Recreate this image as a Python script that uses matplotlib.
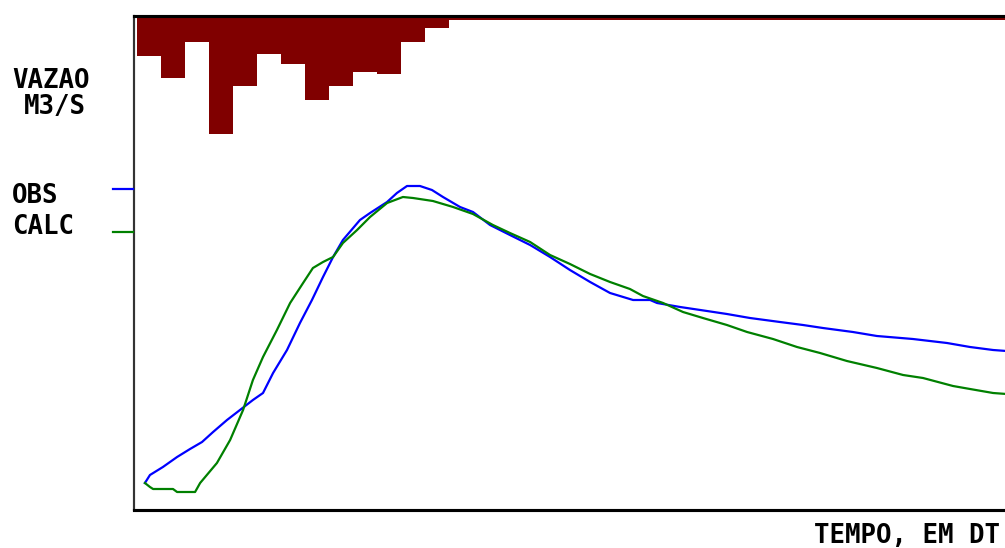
import numpy as np
import matplotlib
matplotlib.use("Agg")
import matplotlib.pyplot as plt
from matplotlib.lines import Line2D

# rainfall per time step (mm), drawn downward from the top of the box
chuva = [4.0, 6.2, 2.6, 11.8, 7.0, 3.8, 4.8, 8.4, 7.0, 5.6, 5.8, 2.6, 1.2,
         0.4, 0.4, 0.4, 0.4, 0.4, 0.4, 0.4, 0.4, 0.4, 0.4, 0.4, 0.4, 0.4,
         0.4, 0.4, 0.4, 0.4, 0.4, 0.4, 0.4, 0.4, 0.4, 0.4, 0.4]
t_chuva = list(range(len(chuva)))

# observed discharge (time in DT, flow in plot units)
t_obs = [0.33, 0.54, 1.08, 1.67, 2.21, 2.71, 3.17, 3.75, 4.29, 4.83, 5.25,
         5.67, 6.25, 6.79, 7.29, 7.75, 8.17, 8.58, 9.29, 9.71, 10.42, 10.83,
         11.25, 11.79, 12.29, 12.75, 13.46, 14.00, 14.71, 15.54, 16.38,
         17.21, 18.04, 18.88, 19.71, 20.67, 21.38, 21.67, 22.63, 23.75,
         24.58, 25.54, 26.79, 27.75, 28.58, 29.83, 30.83, 32.33, 33.75,
         34.71, 35.67, 36.79]
q_obs = [27, 35, 43, 53, 61, 68, 78, 90, 100, 110, 117,
         137, 160, 187, 210, 233, 253, 270, 290, 297, 308, 317,
         324, 324, 320, 313, 303, 298, 285, 275, 265,
         253, 240, 228, 217, 210, 210, 207, 203, 199,
         196, 192, 188, 185, 182, 178, 174, 171, 167,
         163, 160, 158]

# calculated discharge
t_calc = [0.33, 0.54, 0.67, 1.50, 1.67, 2.42, 2.63, 3.33, 3.88, 4.42, 4.83,
          5.25, 5.83, 6.38, 6.92, 7.33, 7.75, 8.17, 8.58, 9.17, 9.71, 10.42,
          11.08, 11.50, 12.33, 13.17, 14.00, 14.83, 15.54, 16.38, 17.21,
          18.04, 18.88, 19.71, 20.54, 21.08, 21.92, 22.75, 23.58, 24.58,
          25.42, 26.50, 27.50, 28.46, 29.58, 30.83, 31.92, 32.75, 34.00,
          34.71, 35.67, 36.79]
q_calc = [27, 23, 21, 21, 18, 18, 27, 47, 70, 100, 130,
          153, 180, 207, 227, 242, 248, 253, 267, 280, 293, 307,
          313, 312, 309, 303, 296, 285, 277, 268, 255,
          246, 236, 228, 221, 214, 207, 198, 192, 185,
          178, 171, 163, 157, 149, 142, 135, 132, 124,
          121, 117, 115]

W, H = 1005, 548
plt.rcParams['font.family'] = ['DejaVu Sans Mono']
plt.rcParams['font.weight'] = 'bold'

fig = plt.figure(figsize=(W / 100, H / 100), dpi=100)
left, right, top, bottom = 134, 1012, 15.5, 510
ax = fig.add_axes([left / W, (H - bottom) / H, (right - left) / W, (bottom - top) / H])

ax.plot(t_obs, q_obs, color='#0000ff', lw=1.6)
ax.plot(t_calc, q_calc, color='#008000', lw=1.6)
ax.set_xlim(-0.125, -0.125 + (right - left) / 24)
ax.set_ylim(0, bottom - top)
ax.set_xticks([])
ax.set_yticks([])

axr = ax.twinx()
axr.bar(t_chuva, chuva, width=1, align='edge', color='#800000', linewidth=0)
axr.set_ylim((bottom - top) / 10, 0)
axr.set_yticks([])
axr.set_zorder(0)
ax.set_zorder(1)
ax.patch.set_visible(False)

for a in (ax, axr):
    a.spines['top'].set_linewidth(2.2)
    a.spines['bottom'].set_linewidth(2.2)
    a.spines['left'].set_linewidth(1.5)
    a.spines['left'].set_color('#333333')
    a.spines['right'].set_visible(False)

# labels on the left
fs = 18.5
def ftext(x, y, s):
    fig.text(x / W, (H - y) / H, s, fontsize=fs, fontweight='bold',
             ha='left', va='baseline')

ftext(12, 88, 'VAZAO')
ftext(24, 114, 'M3/S')
ftext(12, 203, 'OBS')
ftext(12, 234, 'CALC')
ftext(814, 543, 'TEMPO, EM DT')

fig.add_artist(Line2D([113 / W, 133 / W], [(H - 189) / H] * 2, color='#0000ff', lw=1.6))
fig.add_artist(Line2D([113 / W, 133 / W], [(H - 232) / H] * 2, color='#008000', lw=1.6))

fig.savefig('out.png', dpi=100)
